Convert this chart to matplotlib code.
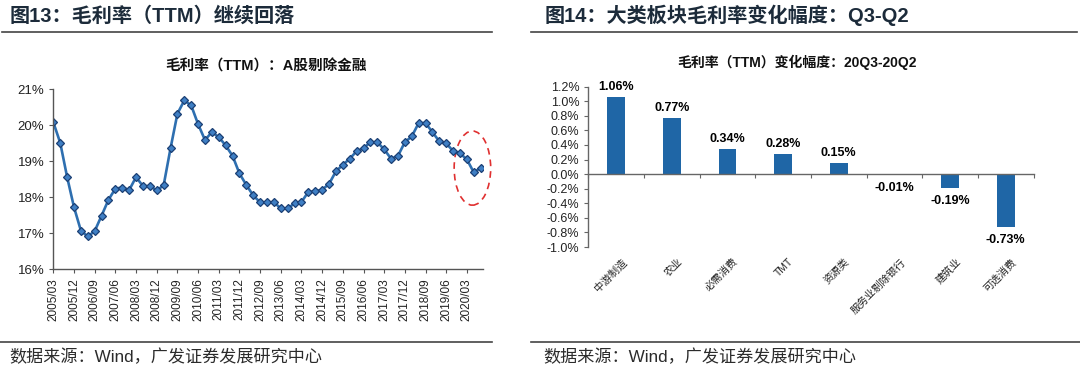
import matplotlib
matplotlib.use("Agg")
import matplotlib.pyplot as plt
from matplotlib.patches import Ellipse
from matplotlib.lines import Line2D
from matplotlib.transforms import blended_transform_factory

plt.rcParams['font.family'] = ['Liberation Sans', 'Noto Sans CJK SC']
plt.rcParams['axes.unicode_minus'] = False

# =================================
# DATA
# =================================

# 毛利率（TTM）：A股剔除金融, 季度 2005/03 - 2020/09 (%)
margin = [
    20.08, 19.51, 18.56, 17.72, 17.07, 16.91, 17.06, 17.49, 17.93, 18.24,
    18.27, 18.20, 18.56, 18.31, 18.31, 18.19, 18.33, 19.36, 20.32, 20.69,
    20.55, 20.03, 19.59, 19.81, 19.67, 19.44, 19.15, 18.66, 18.34, 18.05,
    17.86, 17.86, 17.86, 17.69, 17.69, 17.83, 17.87, 18.15, 18.16, 18.21,
    18.37, 18.72, 18.90, 19.07, 19.28, 19.36, 19.53, 19.53, 19.33, 19.07,
    19.15, 19.53, 19.69, 20.06, 20.06, 19.81, 19.55, 19.50, 19.28, 19.22,
    19.05, 18.69, 18.82,
]

tick_labels = [
    "2005/03", "2005/12", "2006/09", "2007/06", "2008/03", "2008/12",
    "2009/09", "2010/06", "2011/03", "2011/12", "2012/09", "2013/06",
    "2014/03", "2014/12", "2015/09", "2016/06", "2017/03", "2017/12",
    "2018/09", "2019/06", "2020/03",
]

# 大类板块毛利率变化幅度 20Q3-20Q2 (%)
sectors = ["中游制造", "农业", "必需消费", "TMT", "资源类",
           "服务业剔除银行", "建筑业", "可选消费"]
changes = [1.06, 0.77, 0.34, 0.28, 0.15, -0.01, -0.19, -0.73]

# =================================
# FIGURE
# =================================

fig = plt.figure(figsize=(10.8, 3.75), dpi=100)

navy = "#1C2B3A"
line_gray = "#444444"

fig.text(0.009, 0.958, "图13：毛利率（TTM）继续回落", fontsize=14.5,
         fontweight="bold", color=navy, va="center")
fig.text(0.504, 0.958, "图14：大类板块毛利率变化幅度：Q3-Q2", fontsize=14.5,
         fontweight="bold", color=navy, va="center")

fig.add_artist(Line2D([0.002, 0.456], [0.915, 0.915], color=line_gray, lw=1.2))
fig.add_artist(Line2D([0.492, 0.997], [0.915, 0.915], color=line_gray, lw=1.2))
fig.add_artist(Line2D([0.0, 0.456], [0.089, 0.089], color=line_gray, lw=1.2))
fig.add_artist(Line2D([0.492, 1.0], [0.089, 0.089], color=line_gray, lw=1.2))

fig.text(0.009, 0.047, "数据来源：Wind，广发证券发展研究中心", fontsize=12.3,
         color="#2b2b2b", va="center")
fig.text(0.503, 0.047, "数据来源：Wind，广发证券发展研究中心", fontsize=12.3,
         color="#2b2b2b", va="center")

# =================================
# LEFT CHART
# =================================

ax1 = fig.add_axes([0.0494, 0.282, 0.3976, 0.480])
x = list(range(len(margin)))
ax1.plot(x, margin, color="#2E6FB0", lw=1.9, marker="D", markersize=4.2,
         markerfacecolor="#3F7FC4", markeredgecolor="#1B3F73",
         markeredgewidth=0.9)

ax1.set_xlim(0, 62.3)
ax1.set_ylim(16, 21)
ax1.set_yticks([16, 17, 18, 19, 20, 21])
ax1.set_yticklabels([f"{v}%" for v in range(16, 22)], fontsize=9.5)
ax1.set_xticks(list(range(0, 61, 3)))
ax1.set_xticklabels(tick_labels, rotation=90, fontsize=8.5)
ax1.tick_params(axis="both", direction="out", length=3, color="#555555",
                colors="#222222")
for s in ["top", "right"]:
    ax1.spines[s].set_visible(False)
for s in ["left", "bottom"]:
    ax1.spines[s].set_color("#555555")
    ax1.spines[s].set_linewidth(1.0)

ell = Ellipse((60.8, 18.81), width=5.3, height=2.06, fill=False,
              edgecolor="#E03030", lw=1.2, ls=(0, (4, 3)), clip_on=False)
ax1.add_patch(ell)

fig.text(0.246, 0.824, "毛利率（TTM）：A股剔除金融", fontsize=10.5,
         fontweight="bold", color="#111111", ha="center", va="center")

# =================================
# RIGHT CHART
# =================================

ax2 = fig.add_axes([0.5447, 0.3413, 0.4123, 0.4275])
pos = list(range(len(sectors)))
ax2.bar(pos, changes, width=0.32, color="#1F66A6")

ax2.set_xlim(-0.5, len(sectors) - 0.5)
ax2.set_ylim(-1.0, 1.2)
yt = [-1.0, -0.8, -0.6, -0.4, -0.2, 0.0, 0.2, 0.4, 0.6, 0.8, 1.0, 1.2]
ax2.set_yticks(yt)
ax2.set_yticklabels([f"{v:.1f}%" for v in yt], fontsize=9)
ax2.set_xticks([p - 0.5 for p in pos] + [len(sectors) - 0.5])
ax2.set_xticklabels([])
ax2.spines["bottom"].set_position(("data", 0))
for s in ["top", "right"]:
    ax2.spines[s].set_visible(False)
for s in ["left", "bottom"]:
    ax2.spines[s].set_color("#666666")
    ax2.spines[s].set_linewidth(1.0)
ax2.tick_params(axis="both", direction="out", length=3, color="#666666",
                colors="#222222")

for p, v in zip(pos, changes):
    if v >= 0:
        ax2.annotate(f"{v:.2f}%", (p, v), xytext=(0, 3), textcoords="offset points",
                     ha="center", va="bottom", fontsize=9, fontweight="bold")
    else:
        ax2.annotate(f"{v:.2f}%", (p, v), xytext=(0, -5), textcoords="offset points",
                     ha="center", va="top", fontsize=9, fontweight="bold")

trans = blended_transform_factory(ax2.transData, ax2.transAxes)
for p, name in zip(pos, sectors):
    ax2.text(p + 0.1, -0.06, name, transform=trans, rotation=45, ha="right",
             va="top", rotation_mode="anchor", fontsize=7.5, color="#222222")

fig.text(0.738, 0.835, "毛利率（TTM）变化幅度：20Q3-20Q2", fontsize=10,
         fontweight="bold", color="#111111", ha="center", va="center")

plt.savefig("out.png", dpi=100)
